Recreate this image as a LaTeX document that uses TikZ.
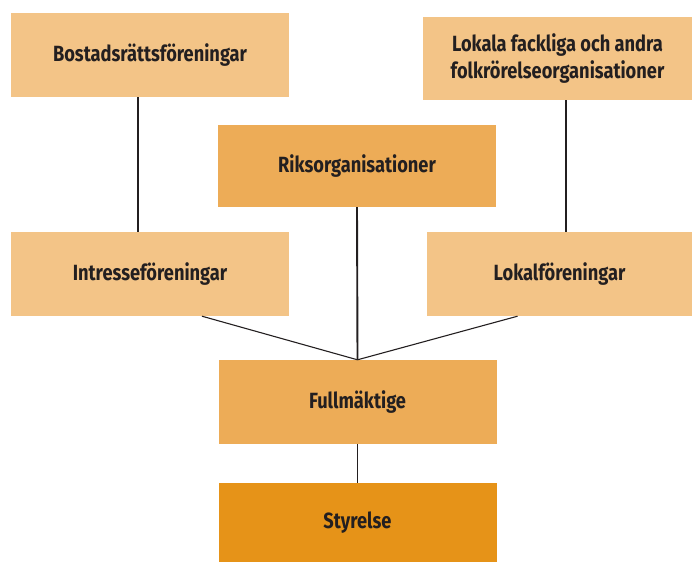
\documentclass[tikz,border=0pt]{standalone}
\usepackage{fontspec}
\setmainfont{Fira Sans}[FakeStretch=0.83]
\usepackage{xcolor}
\usepackage{tikz}
\usetikzlibrary{positioning,calc}

\definecolor{lightorange}{HTML}{F3C487}
\definecolor{midorange}{HTML}{EDAC57}
\definecolor{darkorange}{HTML}{E69318}
\definecolor{textgray}{HTML}{231F20}

\begin{document}
\begin{tikzpicture}[
    x=1pt, y=-1pt,
    unit/.style={rectangle, minimum width=278pt, minimum height=84pt, align=center, inner sep=0pt,
        font=\fontsize{22}{27}\selectfont\bfseries, text=textgray},
    link/.style={line width=1.9pt, draw=textgray},
    thinlink/.style={line width=1.1pt, draw=textgray}
]
    \useasboundingbox (0,0) rectangle (692,562);

    % Top row
    \node[unit, fill=lightorange] (bost) at (150,55) {Bostadsrättsföreningar};
    \node[unit, fill=lightorange, minimum width=269pt, minimum height=83pt] (lokala) at (557.5,58.5)
        {Lokala fackliga och andra\\folkrörelseorganisationer};
    \node[unit, fill=midorange, minimum height=82pt] (riks) at (357,166) {Riksorganisationer};

    % Middle row
    \node[unit, fill=lightorange] (intr) at (150,274) {Intresseföreningar};
    \node[unit, fill=lightorange, minimum width=265pt] (lokf) at (559.5,274) {Lokalföreningar};

    % Bottom
    \node[unit, fill=midorange] (fullm) at (357.5,402) {Fullmäktige};
    \node[unit, fill=darkorange, minimum height=79pt] (styr) at (357.5,522.5) {Styrelse};

    % Connections
    \draw[link] ([xshift=-12pt]bost.south) -- ([xshift=-12pt]bost.south |- intr.north);
    \draw[link] ([xshift=8.5pt]lokala.south) -- ([xshift=8.5pt]lokala.south |- lokf.north);
    \draw[link] (riks.south) -- (fullm.north);
    \draw[thinlink] ([xshift=52pt]intr.south) -- (fullm.north);
    \draw[thinlink] ([xshift=-42pt]lokf.south) -- (fullm.north);
    \draw[link] (fullm.south) -- (styr.north);
\end{tikzpicture}
\end{document}
